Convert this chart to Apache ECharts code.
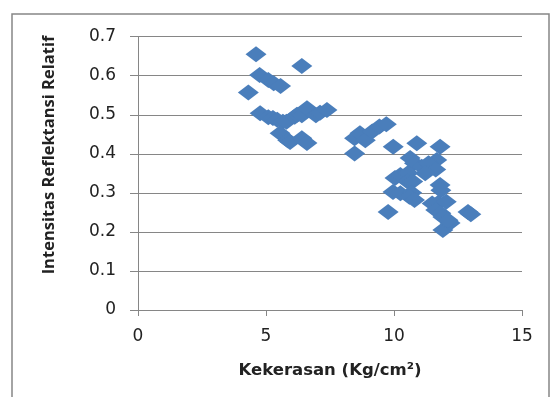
<!DOCTYPE html>
<html><head><meta charset="utf-8">
<script src="https://cdn.jsdelivr.net/npm/echarts@6/dist/echarts.min.js"></script>
<style>html,body{margin:0;padding:0;background:#fff}#c{width:551px;height:397px}</style>
</head><body><div id="c"></div>
<script>
const xTitle = 'Kekerasan (Kg/cm²)';
const yTitle = 'Intensitas Reflektansi Relatif';
const hardness = [4.61,4.31,4.75,5.09,5.30,5.57,6.40,4.77,5.09,5.27,5.44,5.66,5.80,6.12,6.21,6.40,6.60,6.95,7.11,7.38,5.55,5.85,5.94,6.40,6.60,
 8.46,8.46,8.67,8.88,9.15,9.43,9.70,9.97,10.89,11.80,10.63,10.80,11.67,11.21,11.08,11.35,11.63,11.22,10.04,10.25,10.55,10.53,10.73,11.80,11.83,9.96,10.25,10.69,10.60,10.80,9.77,11.72,11.49,11.63,11.83,12.04,11.91,12.89,13.00,11.91,12.19,12.11];
const reflect = [0.655,0.557,0.602,0.589,0.581,0.574,0.625,0.504,0.494,0.492,0.487,0.482,0.482,0.495,0.500,0.499,0.517,0.499,0.505,0.512,0.453,0.435,0.430,0.440,0.428,
 0.401,0.440,0.453,0.435,0.457,0.470,0.476,0.418,0.427,0.418,0.389,0.376,0.384,0.367,0.367,0.376,0.360,0.350,0.338,0.346,0.351,0.329,0.329,0.320,0.307,0.302,0.299,0.300,0.290,0.282,0.251,0.274,0.273,0.256,0.248,0.277,0.238,0.251,0.245,0.205,0.223,0.230];
const xTicks = [0,5,10,15];
const yTicks = [0,0.1,0.2,0.3,0.4,0.5,0.6,0.7];
const data = hardness.map((x,i)=>[x,reflect[i]]);
const chart = echarts.init(document.getElementById('c'));
const grey = '#868686';
chart.setOption({
  animation:false,
  graphic:[
    {type:'rect',shape:{x:12,y:14,width:537,height:400},style:{fill:'none',stroke:grey,lineWidth:1.5},silent:true},
    {type:'text',x:49,y:155,rotation:Math.PI/2,style:{text:yTitle,fontFamily:'Open Sans',fontWeight:'bold',fontSize:16.5,fill:'#222',align:'center',verticalAlign:'middle'},silent:true}
  ],
  grid:{left:138,right:29,top:36.7,bottom:87},
  xAxis:{type:'value',min:xTicks[0],max:xTicks[xTicks.length-1],interval:5,
    name:xTitle,nameLocation:'middle',nameGap:52,
    nameTextStyle:{fontFamily:'DejaVu Sans',fontWeight:'bold',fontSize:16.5,color:'#222'},
    axisLine:{lineStyle:{color:grey}},axisTick:{show:true,length:6,lineStyle:{color:grey}},
    splitLine:{show:false},
    axisLabel:{fontFamily:'DejaVu Sans',fontSize:17,color:'#222',margin:18}},
  yAxis:{type:'value',min:yTicks[0],max:yTicks[yTicks.length-1],interval:0.1,
    axisLine:{show:true,lineStyle:{color:grey}},axisTick:{show:true,length:8,lineStyle:{color:grey}},
    splitLine:{lineStyle:{color:grey}},
    axisLabel:{fontFamily:'DejaVu Sans',fontSize:17,color:'#222',margin:22,formatter:v=>String(+v.toFixed(1))}},
  series:[{type:'scatter',data:data,symbol:'diamond',symbolSize:[21,16],itemStyle:{color:'#4a7ebb',opacity:1}}]
});
</script></body></html>
